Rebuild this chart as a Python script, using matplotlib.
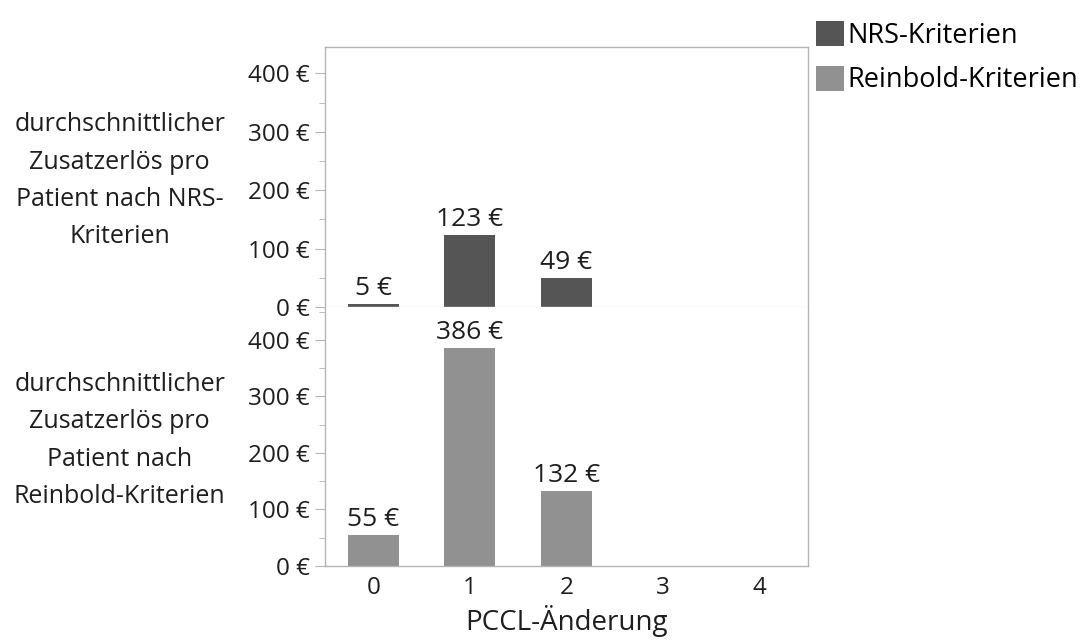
import matplotlib.pyplot as plt
from matplotlib.patches import Patch
from matplotlib.ticker import MultipleLocator, FuncFormatter

plt.rcParams['font.family'] = ['Open Sans', 'DejaVu Sans']

# PCCL-Änderung categories and average additional revenue per patient
pccl = [0, 1, 2, 3, 4]
nrs_values = [5, 123, 49, None, None]
reinbold_values = [55, 386, 132, None, None]
series_names = ['NRS-Kriterien', 'Reinbold-Kriterien']
panel_labels = ['durchschnittlicher\nZusatzerlös pro\nPatient nach NRS-\nKriterien',
                'durchschnittlicher\nZusatzerlös pro\nPatient nach\nReinbold-Kriterien']

dark = '#555555'
light = '#919191'
edge = '#b4b4b4'
txt = '#1e1e1e'

fig = plt.figure(figsize=(10.92, 6.42), dpi=100)
ax1 = fig.add_axes([325 / 1092, 1 - 307 / 642, 483 / 1092, 260 / 642])
ax2 = fig.add_axes([325 / 1092, 1 - 566 / 642, 483 / 1092, 259 / 642], sharex=ax1)

euro = FuncFormatter(lambda v, p: '%d €' % v)

for ax, vals, col, ymax, lab in [(ax1, nrs_values, dark, 445, panel_labels[0]),
                                 (ax2, reinbold_values, light, 458, panel_labels[1])]:
    xs = [x for x, v in zip(pccl, vals) if v is not None]
    ys = [v for v in vals if v is not None]
    ax.bar(xs, ys, width=0.53, color=col, zorder=2)
    for x, v in zip(xs, ys):
        ax.text(x, v + 3 * ymax / 260, '%d €' % v, ha='center', va='bottom',
                fontsize=19, color=txt)
    ax.set_ylim(0, ymax)
    ax.set_xlim(-0.5, 4.5)
    ax.yaxis.set_major_locator(MultipleLocator(100))
    ax.yaxis.set_minor_locator(MultipleLocator(50))
    ax.yaxis.set_major_formatter(euro)
    ax.tick_params(axis='y', which='major', length=7, color=edge, labelsize=17.5,
                   labelcolor=txt, pad=4)
    ax.tick_params(axis='y', which='minor', length=4, color=edge)
    for s in ax.spines.values():
        s.set_color(edge)
        s.set_linewidth(1.0)
    ax.set_ylabel(lab, rotation=0, fontsize=18, color=txt,
                  ha='center', va='center', linespacing=1.65)
    ax.yaxis.set_label_coords(-0.425, 0.485)

ax1.spines['bottom'].set_color('#dddddd')
ax2.spines['top'].set_visible(False)
ax1.tick_params(axis='x', length=0, labelbottom=False)
ax2.set_xticks(pccl)
ax2.tick_params(axis='x', length=0, labelsize=17.5, labelcolor=txt, pad=7)
ax2.set_xlabel('PCCL-Änderung', fontsize=20, color=txt, labelpad=4)

handles = [Patch(facecolor=dark), Patch(facecolor=light)]
fig.legend(handles, series_names, loc='upper left', bbox_to_anchor=(816 / 1092, 1 - 21 / 642),
           frameon=False, fontsize=19.5, handlelength=1.05, handleheight=1.05,
           handletextpad=0.1, labelspacing=0.58, borderaxespad=0, borderpad=0)

fig.savefig('out.png', dpi=100)
